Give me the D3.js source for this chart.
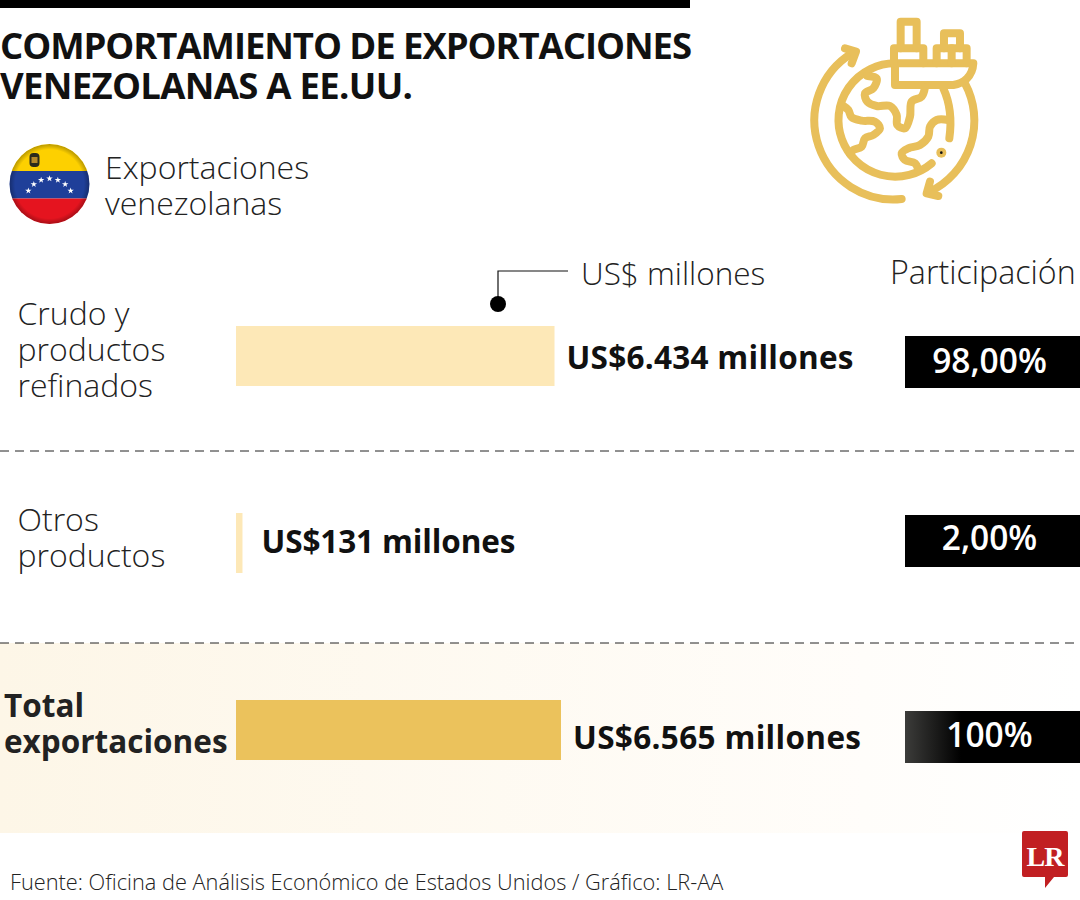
<!DOCTYPE html>
<html lang="es">
<head>
<meta charset="UTF-8">
<title>Comportamiento de exportaciones venezolanas a EE.UU.</title>
<script src="https://d3js.org/d3.v7.min.js"></script>
<style>
  html, body { margin: 0; padding: 0; background: #fff; }
  svg { display: block; font-family: "Open Sans", sans-serif; }
</style>
</head>
<body>
<svg id="chart" width="1080" height="900"></svg>
<script>
// Data
const categories = [["Crudo y", "productos", "refinados"], ["Otros", "productos"], ["Total", "exportaciones"]];
const values = [6434, 131, 6565];
const valueLabels = ["US$6.434 millones", "US$131 millones", "US$6.565 millones"];
const shares = ["98,00%", "2,00%", "100%"];
const titleLines = ["COMPORTAMIENTO DE EXPORTACIONES", "VENEZOLANAS A EE.UU."];
const legendLines = ["Exportaciones", "venezolanas"];
const source = "Fuente: Oficina de Análisis Económico de Estados Unidos / Gráfico: LR-AA";

const svg = d3.select("#chart");
const gold = "#ebc25c";
const defs = svg.append("defs");

const bandGrad = defs.append("linearGradient").attr("id", "band");
bandGrad.append("stop").attr("offset", "0%").attr("stop-color", "#fdf6e7");
bandGrad.append("stop").attr("offset", "80%").attr("stop-color", "#fffdfa");
bandGrad.append("stop").attr("offset", "100%").attr("stop-color", "#ffffff");

const boxGrad = defs.append("linearGradient").attr("id", "boxfade");
boxGrad.append("stop").attr("offset", "0%").attr("stop-color", "#3c3c3a");
boxGrad.append("stop").attr("offset", "32%").attr("stop-color", "#000");
boxGrad.append("stop").attr("offset", "100%").attr("stop-color", "#000");

const shade = defs.append("radialGradient").attr("id", "shade");
shade.append("stop").attr("offset", "86%").attr("stop-color", "#000").attr("stop-opacity", 0);
shade.append("stop").attr("offset", "100%").attr("stop-color", "#000").attr("stop-opacity", 0.28);

defs.append("clipPath").attr("id", "flagClip").append("circle").attr("cx", 49.5).attr("cy", 184).attr("r", 40);

// Scales
const x = d3.scaleLinear().domain([0, 6565]).range([236, 561]);
const rowY = d3.scaleLinear().domain([0, 2]).range([326, 700]);
const barH = 60;

// Background and header
svg.append("rect").attr("x", 0).attr("y", 643).attr("width", 1080).attr("height", 190).attr("fill", "url(#band)");
svg.append("rect").attr("x", 0).attr("y", 0).attr("width", 690).attr("height", 8).attr("fill", "#000");

const titleWidth = [692, 413];
svg.selectAll(".title").data(titleLines).enter().append("text")
  .attr("class", "title")
  .attr("x", 0)
  .attr("y", (d, i) => 59 + i * 40)
  .attr("font-size", 36.5)
  .attr("font-weight", 700)
  .attr("textLength", (d, i) => titleWidth[i])
  .attr("fill", "#111")
  .text(d => d);

// Flag
const flag = svg.append("g").attr("clip-path", "url(#flagClip)");
flag.append("rect").attr("x", 9).attr("y", 144).attr("width", 81).attr("height", 27).attr("fill", "#fdd000");
flag.append("rect").attr("x", 9).attr("y", 171).attr("width", 81).attr("height", 27.5).attr("fill", "#1f3f99");
flag.append("rect").attr("x", 9).attr("y", 198.5).attr("width", 81).attr("height", 26).attr("fill", "#e5141f");
const star = d3.symbol().type(d3.symbolStar).size(13);
d3.range(7).forEach(i => {
  const a = (-60 + i * 20) * Math.PI / 180;
  flag.append("path").attr("d", star)
    .attr("transform", `translate(${49.5 + 24.4 * Math.sin(a)},${203 - 24.4 * Math.cos(a)})`)
    .attr("fill", "#fff");
});
flag.append("rect").attr("x", 29.5).attr("y", 153).attr("width", 10).attr("height", 14).attr("rx", 4).attr("fill", "#2b2a1c");
flag.append("rect").attr("x", 31.5).attr("y", 157).attr("width", 6).attr("height", 6).attr("fill", "#b5882a");
flag.append("circle").attr("cx", 49.5).attr("cy", 184).attr("r", 40).attr("fill", "url(#shade)");

svg.selectAll(".legend").data(legendLines).enter().append("text")
  .attr("class", "legend")
  .attr("x", 105)
  .attr("y", (d, i) => 179 + i * 36)
  .attr("font-size", 32)
  .attr("font-weight", 300)
  .attr("fill", "#222")
  .text(d => d);

// Globe icon, drawn in 3x units
const icon = svg.append("g")
  .attr("transform", "translate(780,0) scale(0.3333)")
  .attr("fill", "none")
  .attr("stroke", "#e8bf5a")
  .attr("stroke-width", 24)
  .attr("stroke-linecap", "round")
  .attr("stroke-linejoin", "round");
[
  "M345 190 A170 170 0 1 0 455 490",
  "M490 265 Q520 330 508 415",
  "M365 597 A237 237 0 0 1 215 160",
  "M195 145 L228 155 L215 190",
  "M555 250 A237 237 0 0 1 450 575",
  "M450 545 L440 580 L475 588",
  "M345 190 H580 C578 230 550 250 520 255 H345 Z",
  "M342 190 V145 H430 V190",
  "M362 145 V65 H410 V145",
  "M470 190 V145 H560 V190",
  "M492 145 V100 H540 V145",
  "M515 145 V190"
].forEach(d => icon.append("path").attr("d", d));
const coast = d3.line().curve(d3.curveCatmullRom);
[
  [[262,228],[290,235],[280,265],[255,280],[262,305],[290,318],[330,318],[350,345],[352,375],[375,385],[390,350],[395,305],[425,290],[435,262]],
  [[190,318],[205,330],[215,352],[245,362],[285,365],[300,385],[280,405],[255,415],[245,440],[220,450],[210,462]],
  [[505,360],[470,360],[450,380],[445,410],[420,435],[385,445],[365,460],[375,480],[405,490],[415,510]]
].forEach(p => icon.append("path").attr("d", coast(p)));
icon.append("circle").attr("cx", 484).attr("cy", 458).attr("r", 15).attr("fill", "#e8bf5a").attr("stroke", "none");
icon.append("circle").attr("cx", 484).attr("cy", 458).attr("r", 4).attr("fill", "#111").attr("stroke", "none");

// Column headers
svg.append("path").attr("d", "M498 304 V271 H568").attr("fill", "none").attr("stroke", "#111").attr("stroke-width", 1.2);
svg.append("circle").attr("cx", 498).attr("cy", 304).attr("r", 8).attr("fill", "#000");
svg.append("text").attr("x", 581).attr("y", 285).attr("font-size", 31.5).attr("font-weight", 300).attr("fill", "#222").text("US$ millones");
svg.append("text").attr("x", 890).attr("y", 284).attr("font-size", 32.2).attr("font-weight", 300).attr("fill", "#222").text("Participación");

// Dividers
[451, 643].forEach(y => {
  svg.append("line").attr("x1", 0).attr("x2", 1080).attr("y1", y).attr("y2", y)
    .attr("stroke", "#222").attr("stroke-width", 1).attr("stroke-dasharray", "9 6");
});

// Rows
const labelTop = [325, 531, 717];
const valueBase = [369, 553, 749];
const valueWidth = [287, 254, 288];
const boxTop = [336, 515, 711];
const shareBase = [373, 550, 747];
const boxH = 52;
const rows = svg.selectAll(".row").data(values).enter().append("g").attr("class", "row");

rows.append("rect")
  .attr("x", x(0))
  .attr("y", (d, i) => rowY(i))
  .attr("width", d => x(d) - x(0))
  .attr("height", barH)
  .attr("fill", (d, i) => i === 2 ? gold : "#fde8b7");

rows.append("text")
  .attr("x", (d, i) => x(d) + (i === 1 ? 19 : 12))
  .attr("y", (d, i) => valueBase[i])
  .attr("font-size", 31.5)
  .attr("font-weight", 700)
  .attr("textLength", (d, i) => valueWidth[i])
  .attr("fill", "#111")
  .text((d, i) => valueLabels[i]);

rows.each(function (d, i) {
  d3.select(this).selectAll(".cat").data(categories[i]).enter().append("text")
    .attr("class", "cat")
    .attr("x", i === 2 ? 4 : 17.5)
    .attr("y", (t, j) => labelTop[i] + j * 36)
    .attr("font-size", i === 2 ? 31.5 : 32)
    .attr("font-weight", i === 2 ? 700 : 300)
    .attr("fill", "#222")
    .text(t => t);
});

rows.append("rect")
  .attr("x", 905)
  .attr("y", (d, i) => boxTop[i])
  .attr("width", 175)
  .attr("height", boxH)
  .attr("fill", (d, i) => i === 2 ? "url(#boxfade)" : "#000");

rows.append("text")
  .attr("x", 989.5)
  .attr("y", (d, i) => shareBase[i])
  .attr("text-anchor", "middle")
  .attr("font-size", 33.5)
  .attr("font-weight", 600)
  .attr("fill", "#fff")
  .text((d, i) => shares[i]);

// Footer
svg.append("text").attr("x", 10).attr("y", 890).attr("font-size", 21.75).attr("font-weight", 300).attr("fill", "#222").text(source);
svg.append("path")
  .attr("d", "M1024 831 H1066 Q1068 831 1068 833 V875 Q1068 877 1066 877 H1054 L1045 888 V877 H1024 Q1022 877 1022 875 V833 Q1022 831 1024 831 Z")
  .attr("fill", "#c11f22");
svg.append("text").attr("x", 1045).attr("y", 866).attr("text-anchor", "middle")
  .attr("font-family", "'Liberation Serif', serif").attr("font-weight", 700).attr("font-size", 28)
  .attr("fill", "#fff").attr("letter-spacing", -1).text("LR");
</script>
</body>
</html>
